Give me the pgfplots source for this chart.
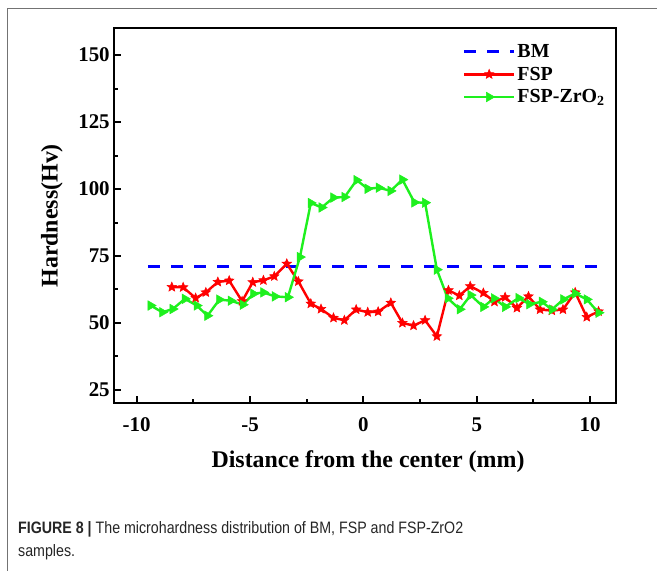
\documentclass[border=0pt]{standalone}
\usepackage{fontspec}
\setmainfont{Liberation Serif}
\newfontfamily\capfont[FakeStretch=0.86]{Liberation Sans}
\usepackage{pgfplots}
\pgfplotsset{compat=1.18}
\definecolor{bmblue}{RGB}{0,0,255}
\definecolor{fspred}{RGB}{255,0,0}
\definecolor{zgreen}{RGB}{30,240,30}
\pgfdeclareplotmark{fstar}{%
 \pgfpathmoveto{\pgfpointpolar{90}{\pgfplotmarksize}}%
 \pgfpathlineto{\pgfpointpolar{126}{0.45\pgfplotmarksize}}%
 \pgfpathlineto{\pgfpointpolar{162}{\pgfplotmarksize}}%
 \pgfpathlineto{\pgfpointpolar{198}{0.45\pgfplotmarksize}}%
 \pgfpathlineto{\pgfpointpolar{234}{\pgfplotmarksize}}%
 \pgfpathlineto{\pgfpointpolar{270}{0.45\pgfplotmarksize}}%
 \pgfpathlineto{\pgfpointpolar{306}{\pgfplotmarksize}}%
 \pgfpathlineto{\pgfpointpolar{342}{0.45\pgfplotmarksize}}%
 \pgfpathlineto{\pgfpointpolar{18}{\pgfplotmarksize}}%
 \pgfpathlineto{\pgfpointpolar{54}{0.45\pgfplotmarksize}}%
 \pgfpathclose\pgfusepathqfillstroke}
\begin{document}
\begin{tikzpicture}
\path[use as bounding box] (0,0) rectangle (657bp,-571bp);
\draw[black!55, line width=1bp] (7bp,-571bp) -- (7bp,-8bp) -- (657bp,-8bp);
\begin{axis}[
 at={(114bp,-403.3bp)}, anchor=south west,
 scale only axis, width=502bp, height=375bp,
 xmin=-11, xmax=11.14, ymin=20, ymax=160,
 xtick={-10,-5,...,10}, ytick={25,50,...,150},
 minor x tick num=1, minor y tick num=1,
 tick align=inside, xtick pos=bottom, ytick pos=left,
 major tick length=7bp, minor tick length=4bp,
 every axis/.append style={line width=2bp},
 tick style={black, line width=2bp},
 /pgf/number format/assume math mode=true,
 ticklabel style={font=\fontsize{21}{21}\selectfont\bfseries},
 xticklabel style={yshift=-10bp},
 xlabel={Distance from the center (mm)}, ylabel={Hardness(Hv)},
 label style={font=\fontsize{24}{24}\selectfont\bfseries},
 xlabel style={at={(axis description cs:0.506,-0.1565)}, anchor=center},
 ylabel style={at={(axis description cs:-0.1235,0.5)}, anchor=center},
 legend style={draw=none, fill=none, at={(axis description cs:0.693,0.965)}, anchor=north west,
   font=\fontsize{20}{20}\selectfont\bfseries, row sep=4bp, inner sep=0pt, nodes={inner sep=2bp}},
 legend cell align=left,
 legend image code/.code={\draw[mark repeat=2,mark phase=2] plot coordinates {(0bp,0bp) (25bp,0bp) (50bp,0bp)};},
]
\addplot[bmblue, line width=2.6bp, dash pattern=on 12bp off 11bp] coordinates {(-9.5,71) (10.37,71)};
\addlegendentry{BM}
\addplot[fspred, line width=2.4bp, mark=fstar, mark size=5bp, mark options={solid, fill=fspred, line width=0.5bp}] coordinates {
(-8.45,63.4) (-7.95,63.3) (-7.4,59.3) (-6.95,61.4) (-6.42,65.3) (-5.92,65.8) (-5.35,58.1) (-4.88,65.2) (-4.41,65.9) (-3.93,67.4) (-3.38,72.1) (-2.87,65.5) (-2.32,57.2) (-1.87,55.2) (-1.32,51.9) (-0.84,51) (-0.32,55) (0.19,54) (0.65,54.2) (1.21,57.5) (1.72,50) (2.21,49) (2.72,51) (3.24,45) (3.75,62.2) (4.23,60.2) (4.71,63.7) (5.29,61.2) (5.78,57.9) (6.25,59.6) (6.77,55.6) (7.28,59.9) (7.79,55) (8.31,54.6) (8.8,55) (9.34,61.4) (9.85,52.2) (10.37,54.3)};
\addlegendentry{FSP}
\addplot[zgreen, line width=2.4bp, mark=triangle*, mark size=5.5bp, mark options={rotate=-90, fill=zgreen, line width=0.5bp}] coordinates {
(-9.38,56.5) (-8.87,54) (-8.41,55.2) (-7.87,59) (-7.35,56.5) (-6.88,52.7) (-6.35,58.7) (-5.85,58.3) (-5.32,56.8) (-4.85,60.9) (-4.41,61.4) (-3.9,59.9) (-3.33,59.6) (-2.8,74.6) (-2.32,94.8) (-1.84,93.1) (-1.32,96.8) (-0.83,97) (-0.3,103.3) (0.19,100.1) (0.68,100.5) (1.2,99.3) (1.72,103.5) (2.25,95) (2.72,94.9) (3.24,69.9) (3.72,59.2) (4.25,55.1) (4.73,60.4) (5.29,56) (5.76,59.2) (6.25,56) (6.84,59.3) (7.32,57) (7.87,57.9) (8.31,55) (8.82,58.8) (9.34,61) (9.85,58.8) (10.37,53.8)};
\addlegendentry{FSP-ZrO\textsubscript{2}}
\end{axis}
\node[anchor=base west, font=\capfont\fontsize{16.6}{20}\selectfont, text=black!85, inner sep=0pt] at (18bp,-533bp) {\textbf{FIGURE 8 |} The microhardness distribution of BM, FSP and FSP-ZrO2};
\node[anchor=base west, font=\capfont\fontsize{16.6}{20}\selectfont, text=black!85, inner sep=0pt] at (18bp,-556bp) {samples.};
\end{tikzpicture}
\end{document}
